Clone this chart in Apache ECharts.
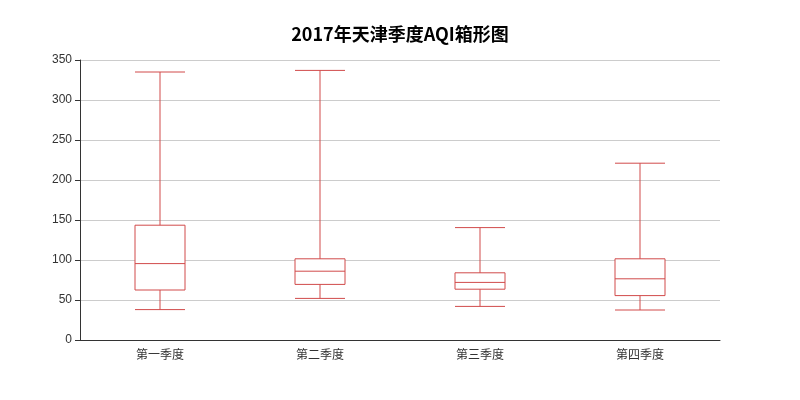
<!DOCTYPE html>
<html><head><meta charset="utf-8">
<script src="https://cdn.jsdelivr.net/npm/echarts@6/dist/echarts.min.js"></script>
<style>html,body{margin:0;padding:0;background:#fff}#c{width:800px;height:400px}</style>
</head><body><div id="c"></div>
<script>
const categories = ['第一季度', '第二季度', '第三季度', '第四季度'];
const lowValues = [38, 52, 42, 37.5];
const q1Values = [62.5, 69.5, 63.5, 55.5];
const medianValues = [95.5, 86, 72, 76.5];
const q3Values = [143.5, 101.5, 84, 101.5];
const highValues = [335, 337, 140.5, 221];
const yTicks = [0, 50, 100, 150, 200, 250, 300, 350];

const boxData = categories.map((c, i) => [lowValues[i], q1Values[i], medianValues[i], q3Values[i], highValues[i]]);
const chart = echarts.init(document.getElementById('c'));
chart.setOption({
  animation: false,
  title: {
    text: '2017年天津季度AQI箱形图', left: 'center', top: 20,
    textStyle: { fontSize: 18, fontWeight: 'bold', color: '#000', fontFamily: 'Noto Sans CJK SC' }
  },
  grid: { left: 80, right: 80, top: 60, bottom: 60 },
  xAxis: {
    type: 'category', data: categories,
    axisLine: { lineStyle: { color: '#333' } },
    axisTick: { lineStyle: { color: '#333' } },
    axisLabel: { color: '#333', fontSize: 12, fontFamily: 'Noto Sans CJK SC' }
  },
  yAxis: {
    type: 'value', min: yTicks[0], max: yTicks[yTicks.length - 1], interval: 50,
    axisLine: { show: true, lineStyle: { color: '#333' } },
    axisTick: { show: true, lineStyle: { color: '#333' } },
    axisLabel: { color: '#333', fontSize: 12 },
    splitLine: { lineStyle: { color: '#ccc' } }
  },
  series: [{
    type: 'boxplot', data: boxData,
    boxWidth: [7, 50],
    itemStyle: { color: '#fff', borderColor: '#d14a4a', borderWidth: 1 }
  }]
});
</script></body></html>
